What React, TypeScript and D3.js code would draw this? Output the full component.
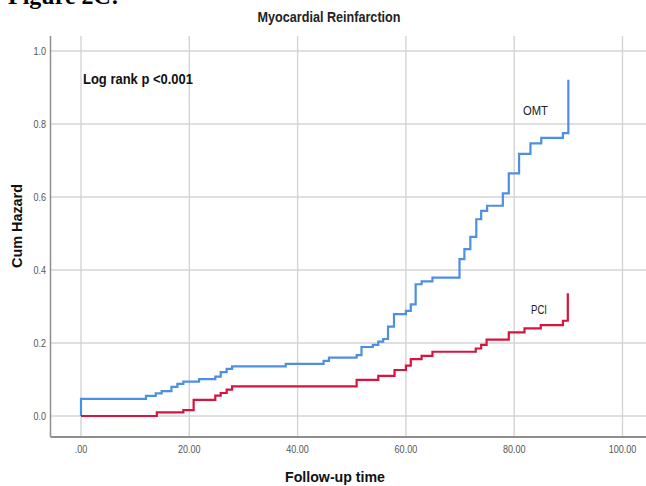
import React from "react";
import * as d3 from "d3";

const omtTimes = [0, 0, 12.0, 13.8, 14.9, 16.7, 17.8, 18.9, 21.8, 24.8, 25.8, 26.9, 27.9, 37.8, 44.8, 45.8, 50.9, 51.8, 53.9, 54.9, 55.8, 56.7, 57.8, 60.0, 60.9, 61.8, 62.9, 64.9, 69.9, 70.8, 71.9, 73.0, 73.9, 75.0, 77.9, 79.0, 80.9, 83.0, 85.0, 89.0, 90.0];
const omtHazard = [0, 0.047, 0.055, 0.062, 0.068, 0.080, 0.088, 0.094, 0.101, 0.108, 0.120, 0.129, 0.136, 0.143, 0.151, 0.160, 0.167, 0.189, 0.195, 0.204, 0.211, 0.245, 0.279, 0.288, 0.306, 0.361, 0.369, 0.379, 0.430, 0.457, 0.491, 0.539, 0.562, 0.576, 0.610, 0.665, 0.718, 0.747, 0.762, 0.775, 0.921];

const pciTimes = [0, 14.0, 18.9, 20.8, 24.8, 25.8, 26.9, 27.9, 50.9, 54.9, 57.9, 60.0, 60.9, 62.9, 64.9, 72.9, 73.9, 74.9, 79.0, 81.9, 84.9, 89.0, 89.9];
const pciHazard = [0, 0.010, 0.016, 0.044, 0.056, 0.063, 0.072, 0.081, 0.099, 0.110, 0.126, 0.138, 0.156, 0.165, 0.176, 0.185, 0.195, 0.209, 0.229, 0.240, 0.249, 0.261, 0.336];

const xTicks = [0, 20, 40, 60, 80, 100];
const xTickLabels = [".00", "20.00", "40.00", "60.00", "80.00", "100.00"];
const yTicks = [0, 0.2, 0.4, 0.6, 0.8, 1.0];
const yTickLabels = ["0.0", "0.2", "0.4", "0.6", "0.8", "1.0"];

const W = 646;
const H = 486;
const plotLeft = 50.5;
const plotRight = 646;
const plotTop = 36;
const plotBottom = 437;

const x = d3.scaleLinear().domain([0, 100]).range([81, 622.5]);
const y = d3.scaleLinear().domain([0, 1]).range([416, 51]);

const line = d3
  .line<[number, number]>()
  .x((d) => x(d[0]))
  .y((d) => y(d[1]))
  .curve(d3.curveStepAfter);

const omtPts: [number, number][] = omtTimes.map((t, i) => [t, omtHazard[i]]);
const pciPts: [number, number][] = pciTimes.map((t, i) => [t, pciHazard[i]]);

const sans = "'Liberation Sans', Arial, sans-serif";
const tickFs = 10.5;
const tickLen = (s: string) => {
  let em = 0;
  for (const c of s) em += c === "." ? 0.278 : 0.556;
  return em * tickFs * 0.86;
};

export default function App() {
  return (
    <svg
      width={W}
      height={H}
      style={{ position: "fixed", left: 0, top: 0, background: "#fff" }}
    >
      <rect x={0} y={0} width={W} height={H} fill="#fff" />
      <text
        x={8}
        y={4}
        fontFamily="'Liberation Serif', 'Times New Roman', serif"
        fontWeight="bold"
        fontSize={24}
        fill="#000"
      >
        Figure 2C:
      </text>
      <text
        x={329}
        y={21.5}
        textAnchor="middle"
        fontFamily={sans}
        fontWeight="bold"
        fontSize={14}
        textLength={143}
        lengthAdjust="spacingAndGlyphs"
        fill="#222"
      >
        Myocardial Reinfarction
      </text>
      {yTicks.map((t) => (
        <line
          key={"gy" + t}
          x1={plotLeft}
          x2={plotRight}
          y1={y(t)}
          y2={y(t)}
          stroke="#d4d4d4"
          strokeWidth={1.4}
        />
      ))}
      {xTicks.map((t) => (
        <line
          key={"gx" + t}
          x1={x(t)}
          x2={x(t)}
          y1={plotTop}
          y2={plotBottom}
          stroke="#d4d4d4"
          strokeWidth={1.4}
        />
      ))}
      <line x1={plotLeft} x2={plotLeft} y1={plotTop} y2={plotBottom} stroke="#8e8e8e" strokeWidth={1.5} />
      <line x1={plotLeft} x2={plotRight} y1={plotBottom} y2={plotBottom} stroke="#8e8e8e" strokeWidth={1.8} />
      {yTicks.map((t, i) => (
        <text
          key={"yl" + t}
          x={46}
          y={y(t) + 3.8}
          textAnchor="end"
          fontFamily={sans}
          fontSize={tickFs}
          textLength={tickLen(yTickLabels[i])}
          lengthAdjust="spacingAndGlyphs"
          fill="#555"
        >
          {yTickLabels[i]}
        </text>
      ))}
      {xTicks.map((t, i) => (
        <text
          key={"xl" + t}
          x={x(t)}
          y={453}
          textAnchor="middle"
          fontFamily={sans}
          fontSize={tickFs}
          textLength={tickLen(xTickLabels[i])}
          lengthAdjust="spacingAndGlyphs"
          fill="#555"
        >
          {xTickLabels[i]}
        </text>
      ))}
      <path d={line(omtPts) || ""} fill="none" stroke="#4d8fe3" strokeWidth={2.2} />
      <path d={line(pciPts) || ""} fill="none" stroke="#d6143e" strokeWidth={2.2} />
      <text
        x={83}
        y={83.5}
        fontFamily={sans}
        fontWeight="bold"
        fontSize={14}
        textLength={110}
        lengthAdjust="spacingAndGlyphs"
        fill="#111"
      >
        Log rank p &lt;0.001
      </text>
      <text x={523} y={114.5} fontFamily={sans} fontSize={13.5} textLength={25} lengthAdjust="spacingAndGlyphs" fill="#222">
        OMT
      </text>
      <text x={531} y={313.5} fontFamily={sans} fontSize={13.5} textLength={16} lengthAdjust="spacingAndGlyphs" fill="#222">
        PCI
      </text>
      <text
        transform="translate(22,226) rotate(-90)"
        textAnchor="middle"
        fontFamily={sans}
        fontWeight="bold"
        fontSize={14}
        textLength={84}
        lengthAdjust="spacingAndGlyphs"
        fill="#111"
      >
        Cum Hazard
      </text>
      <text
        x={335}
        y={482}
        textAnchor="middle"
        fontFamily={sans}
        fontWeight="bold"
        fontSize={14.5}
        textLength={100}
        lengthAdjust="spacingAndGlyphs"
        fill="#111"
      >
        Follow-up time
      </text>
    </svg>
  );
}
